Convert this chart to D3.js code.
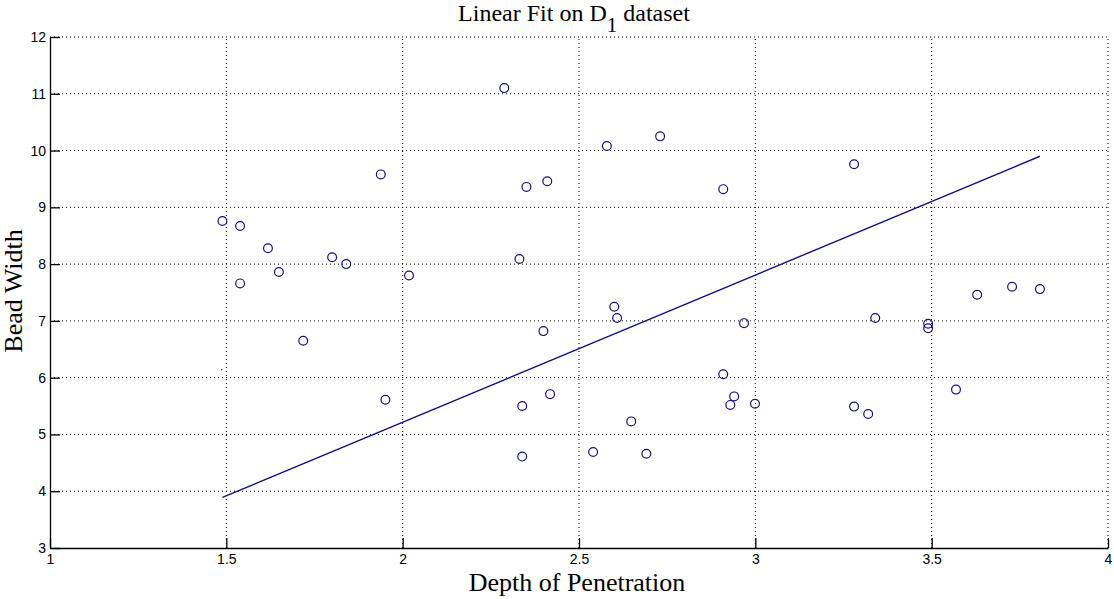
<!DOCTYPE html>
<html>
<head>
<meta charset="utf-8">
<script src="https://cdn.jsdelivr.net/npm/d3@7"></script>
<style>
  body { margin: 0; background: #fff; }
  svg { display: block; }
</style>
</head>
<body>
<svg id="chart" width="1114" height="599"></svg>
<script>
// data
let depth = [1.489, 1.539, 1.539, 1.618, 1.649, 1.718, 1.800, 1.840, 1.938, 1.951, 2.018,
  2.288, 2.331, 2.339, 2.339, 2.351, 2.399, 2.410, 2.418, 2.540, 2.579, 2.600, 2.608, 2.648, 2.691, 2.730,
  2.909, 2.909, 2.929, 2.940, 2.968, 2.999, 3.280, 3.280, 3.320, 3.340, 3.490, 3.490, 3.569, 3.629, 3.728, 3.807];
let width_ = [8.76, 8.67, 7.66, 8.28, 7.86, 6.65, 8.12, 8.00, 9.58, 5.61, 7.80,
  11.10, 8.09, 5.50, 4.61, 9.36, 6.82, 9.46, 5.71, 4.69, 10.08, 7.25, 7.05, 5.23, 4.66, 10.25,
  9.32, 6.06, 5.52, 5.67, 6.96, 5.54, 9.76, 5.49, 5.36, 7.05, 6.95, 6.87, 5.79, 7.46, 7.60, 7.56];
let fitLine = [{x: 1.489, y: 3.89}, {x: 3.807, y: 9.90}];
let strayDot = [{x: 1.487, y: 6.14}];
let xTicks = [1, 1.5, 2, 2.5, 3, 3.5, 4];
let yTicks = [3, 4, 5, 6, 7, 8, 9, 10, 11, 12];

let svg = d3.select('#chart');
let margin = {left: 50, right: 6, top: 37, bottom: 51};
let W = +svg.attr('width'), H = +svg.attr('height');
let x = d3.scaleLinear().domain([1, 4]).range([margin.left, W - margin.right]);
let y = d3.scaleLinear().domain([3, 12]).range([H - margin.bottom, margin.top]);
let blue = '#12127a';

// dotted grid
let grid = svg.append('g');
grid.selectAll('.vg')
  .data(xTicks.slice(1))
  .enter()
  .append('line')
    .attr('x1', d => x(d)).attr('x2', d => x(d))
    .attr('y1', y(3)).attr('y2', y(12))
    .style('stroke', '#000')
    .style('stroke-dasharray', '1,3');
grid.selectAll('.hg')
  .data(yTicks.slice(1))
  .enter()
  .append('line')
    .attr('x1', x(1)).attr('x2', x(4))
    .attr('y1', d => y(d)).attr('y2', d => y(d))
    .style('stroke', '#000')
    .style('stroke-dasharray', '1,3');

// axes, ticks pointing inward
let xAxis = svg.append('g')
  .attr('transform', 'translate(0,' + y(3) + ')')
  .call(d3.axisBottom(x).tickValues(xTicks).tickFormat(d3.format('')).tickSizeInner(-10).tickSizeOuter(0).tickPadding(3));
xAxis.selectAll('text').attr('dy', '0.95em');
let yAxis = svg.append('g')
  .attr('transform', 'translate(' + x(1) + ',0)')
  .call(d3.axisLeft(y).tickValues(yTicks).tickSizeInner(-10).tickSizeOuter(0).tickPadding(4));
svg.selectAll('.domain, .tick line').style('stroke', '#000').style('stroke-width', 1.3);
svg.selectAll('.tick text')
  .style('font-family', 'Arial, "Liberation Sans", sans-serif')
  .style('font-size', '14px')
  .style('fill', '#000');

// fitted line
svg.append('path')
  .datum(fitLine)
  .attr('d', d3.line().x(d => x(d.x)).y(d => y(d.y)))
  .style('fill', 'none')
  .style('stroke', blue)
  .style('stroke-width', 1.4);

// observations
svg.selectAll('.pt')
  .data(depth.map((d, i) => ({x: d, y: width_[i]})))
  .enter()
  .append('circle')
    .attr('cx', d => x(d.x))
    .attr('cy', d => y(d.y))
    .attr('r', 4.4)
    .style('fill', 'none')
    .style('stroke', blue)
    .style('stroke-width', 1.2);

svg.selectAll('.dot')
  .data(strayDot)
  .enter()
  .append('circle')
    .attr('cx', d => x(d.x))
    .attr('cy', d => y(d.y))
    .attr('r', 0.8)
    .style('fill', '#333');

// labels
let serif = '"Liberation Serif", "Times New Roman", serif';
let title = svg.append('text')
  .attr('x', 574).attr('y', 21)
  .attr('text-anchor', 'middle')
  .style('font-family', serif).style('font-size', '24px');
title.append('tspan').text('Linear Fit on D');
title.append('tspan').attr('dy', 11).style('font-size', '21px').text('1');
title.append('tspan').attr('dy', -11).text('\u00a0dataset');

svg.append('text')
  .attr('x', 577).attr('y', 591)
  .attr('text-anchor', 'middle')
  .style('font-family', serif).style('font-size', '26px')
  .text('Depth of Penetration');

svg.append('text')
  .attr('transform', 'translate(22,291) rotate(-90)')
  .attr('text-anchor', 'middle')
  .style('font-family', serif).style('font-size', '26px')
  .text('Bead Width');
</script>
</body>
</html>
